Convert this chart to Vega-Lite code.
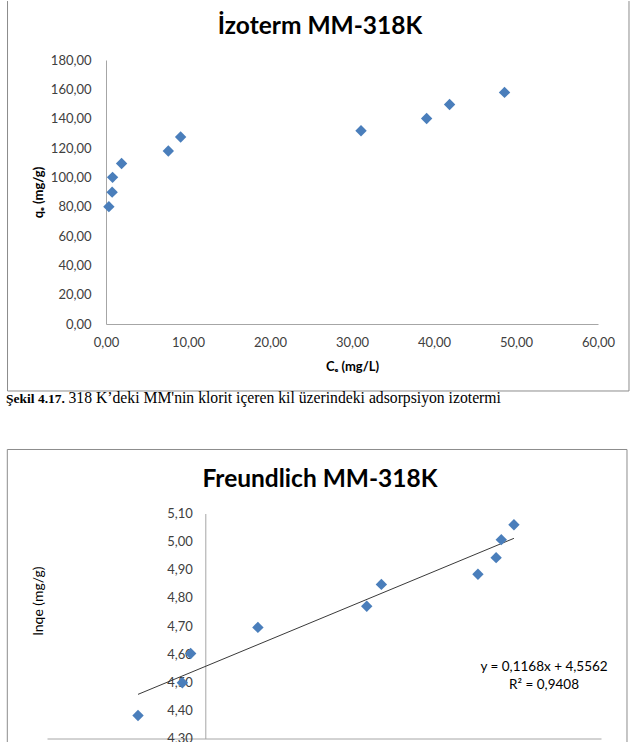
{
  "$schema": "https://vega.github.io/schema/vega-lite/v6.json",
  "background": "white",
  "padding": {"left": 6, "top": 0, "right": 0, "bottom": 0},
  "columns": 1,
  "align": "none",
  "spacing": 42.5,
  "config": {
    "font": "Lato",
    "view": {"stroke": null},
    "axis": {
      "grid": false,
      "ticks": false,
      "labelFlush": false,
      "domainColor": "#a6a6a6",
      "domainWidth": 1,
      "labelFont": "Lato",
      "labelFontSize": 13,
      "labelColor": "#404040",
      "titleFont": "Lato",
      "titleColor": "#000000"
    }
  },
  "datasets": {
    "isoterm": [
      {"Ce": 0.35, "qe": 80.0},
      {"Ce": 0.75, "qe": 89.9},
      {"Ce": 0.80, "qe": 100.0},
      {"Ce": 1.90, "qe": 109.4},
      {"Ce": 7.60, "qe": 118.0},
      {"Ce": 9.10, "qe": 127.5},
      {"Ce": 31.1, "qe": 131.8},
      {"Ce": 39.1, "qe": 140.1},
      {"Ce": 41.9, "qe": 149.7},
      {"Ce": 48.6, "qe": 157.9}
    ],
    "freundlich": [
      {"lnCe": -0.85, "lnqe": 4.382},
      {"lnCe": -0.29, "lnqe": 4.498},
      {"lnCe": -0.185, "lnqe": 4.602},
      {"lnCe": 0.665, "lnqe": 4.695},
      {"lnCe": 2.04, "lnqe": 4.770},
      {"lnCe": 2.225, "lnqe": 4.848},
      {"lnCe": 3.445, "lnqe": 4.884},
      {"lnCe": 3.675, "lnqe": 4.943},
      {"lnCe": 3.74, "lnqe": 5.007},
      {"lnCe": 3.90, "lnqe": 5.060}
    ],
    "trend": [
      {"lnCe": -0.85, "fit": 4.4569},
      {"lnCe": 3.90, "fit": 5.0117}
    ]
  },
  "concat": [
    {
      "width": 492,
      "height": 264,
      "data": {"values": [{}]},
      "resolve": {"axis": {"x": "independent", "y": "independent"}},
      "layer": [
        {
          "mark": {"type": "rule", "color": "#8c8c8c", "strokeWidth": 1},
          "encoding": {
            "x": {"datum": -12.01, "type": "quantitative", "scale": {"domain": [0, 60], "nice": false}, "axis": null},
            "y": {"datum": 220.2, "type": "quantitative", "scale": {"domain": [0, 180], "nice": false}, "axis": null},
            "y2": {"datum": -45.68}
          }
        },
        {
          "mark": {"type": "rule", "color": "#8c8c8c", "strokeWidth": 1},
          "encoding": {
            "x": {"datum": 63.78, "type": "quantitative", "scale": {"domain": [0, 60], "nice": false}, "axis": null},
            "y": {"datum": 220.2, "type": "quantitative", "scale": {"domain": [0, 180], "nice": false}, "axis": null},
            "y2": {"datum": -45.68}
          }
        },
        {
          "mark": {"type": "rule", "color": "#8c8c8c", "strokeWidth": 1},
          "encoding": {
            "x": {"datum": -12.01, "type": "quantitative", "scale": {"domain": [0, 60], "nice": false}, "axis": null},
            "x2": {"datum": 63.78},
            "y": {"datum": -45.68, "type": "quantitative", "scale": {"domain": [0, 180], "nice": false}, "axis": null}
          }
        },
        {
          "mark": {"type": "text", "text": "İzoterm MM-318K", "font": "Lato", "fontSize": 24.5, "fontWeight": "bold", "align": "center", "baseline": "alphabetic", "color": "#000000"},
          "encoding": {
            "x": {"datum": 26.1, "type": "quantitative", "scale": {"domain": [0, 60], "nice": false}, "axis": null},
            "y": {"datum": 197.7, "type": "quantitative", "scale": {"domain": [0, 180], "nice": false}, "axis": null}
          }
        },
        {
          "mark": {"type": "text", "text": "Şekil 4.17.", "font": "Liberation Serif", "fontSize": 13.5, "fontWeight": "bold", "align": "left", "baseline": "alphabetic", "color": "#000000"},
          "encoding": {
            "x": {"datum": -12.195, "type": "quantitative", "scale": {"domain": [0, 60], "nice": false}, "axis": null},
            "y": {"datum": -53.86, "type": "quantitative", "scale": {"domain": [0, 180], "nice": false}, "axis": null}
          }
        },
        {
          "mark": {"type": "text", "text": "318 K’deki MM'nin klorit içeren kil üzerindeki adsorpsiyon izotermi", "font": "Liberation Serif", "fontSize": 15.7, "align": "left", "baseline": "alphabetic", "color": "#000000"},
          "encoding": {
            "x": {"datum": -4.573, "type": "quantitative", "scale": {"domain": [0, 60], "nice": false}, "axis": null},
            "y": {"datum": -53.86, "type": "quantitative", "scale": {"domain": [0, 180], "nice": false}, "axis": null}
          }
        },
        {
          "data": {"name": "isoterm"},
          "mark": {"type": "point", "shape": "diamond", "filled": true, "size": 130, "color": "#4A7EBB", "opacity": 1},
          "encoding": {
            "x": {
              "field": "Ce", "type": "quantitative",
              "scale": {"domain": [0, 60], "nice": false},
              "axis": {
                "orient": "bottom",
                "values": [0, 10, 20, 30, 40, 50, 60],
                "labelExpr": "replace(format(datum.value, '.2f'), '.', ',')",
                "labelPadding": 12,
                "title": "Cₑ (mg/L)",
                "titleFontSize": 13,
                "titleFontWeight": "bold",
                "titleBaseline": "alphabetic",
                "titleY": 46
              }
            },
            "y": {
              "field": "qe", "type": "quantitative",
              "scale": {"domain": [0, 180], "nice": false},
              "axis": {
                "orient": "left",
                "values": [0, 20, 40, 60, 80, 100, 120, 140, 160, 180],
                "labelExpr": "replace(format(datum.value, '.2f'), '.', ',')",
                "labelPadding": 15,
                "title": "qₑ (mg/g)",
                "titleFontSize": 13,
                "titleFontWeight": "bold",
                "titleX": -61
              }
            }
          }
        }
      ]
    },
    {
      "width": 495,
      "height": 225,
      "data": {"values": [{}]},
      "resolve": {"axis": {"x": "independent", "y": "independent"}},
      "layer": [
        {
          "mark": {"type": "rule", "color": "#8c8c8c", "strokeWidth": 1},
          "encoding": {
            "x": {"datum": -2.5016, "type": "quantitative", "scale": {"domain": [-2, 5], "range": [-59, 495], "nice": false}, "axis": null},
            "y": {"datum": 5.3276, "type": "quantitative", "scale": {"domain": [4.3, 5.1], "nice": false, "zero": false}, "axis": null},
            "y2": {"datum": 4.08}
          }
        },
        {
          "mark": {"type": "rule", "color": "#8c8c8c", "strokeWidth": 1},
          "encoding": {
            "x": {"datum": 5.3285, "type": "quantitative", "scale": {"domain": [-2, 5], "range": [-59, 495], "nice": false}, "axis": null},
            "y": {"datum": 5.3276, "type": "quantitative", "scale": {"domain": [4.3, 5.1], "nice": false, "zero": false}, "axis": null},
            "y2": {"datum": 4.08}
          }
        },
        {
          "mark": {"type": "rule", "color": "#8c8c8c", "strokeWidth": 1},
          "encoding": {
            "x": {"datum": -2.5016, "type": "quantitative", "scale": {"domain": [-2, 5], "range": [-59, 495], "nice": false}, "axis": null},
            "x2": {"datum": 5.3285},
            "y": {"datum": 5.3276, "type": "quantitative", "scale": {"domain": [4.3, 5.1], "nice": false, "zero": false}, "axis": null}
          }
        },
        {
          "mark": {"type": "text", "text": "Freundlich MM-318K", "font": "Lato", "fontSize": 24.5, "fontWeight": "bold", "align": "center", "baseline": "alphabetic", "color": "#000000"},
          "encoding": {
            "x": {"datum": 1.4495, "type": "quantitative", "scale": {"domain": [-2, 5], "range": [-59, 495], "nice": false}, "axis": null},
            "y": {"datum": 5.1942, "type": "quantitative", "scale": {"domain": [4.3, 5.1], "nice": false, "zero": false}, "axis": null}
          }
        },
        {
          "data": {"name": "trend"},
          "mark": {"type": "line", "color": "#222222", "strokeWidth": 0.9},
          "encoding": {
            "x": {"field": "lnCe", "type": "quantitative", "scale": {"domain": [-2, 5], "range": [-59, 495], "nice": false}, "axis": null},
            "y": {"field": "fit", "type": "quantitative", "scale": {"domain": [4.3, 5.1], "nice": false, "zero": false}, "axis": null}
          }
        },
        {
          "data": {"name": "freundlich"},
          "mark": {"type": "point", "shape": "diamond", "filled": true, "size": 130, "color": "#4A7EBB", "opacity": 1},
          "encoding": {
            "x": {
              "field": "lnCe", "type": "quantitative",
              "scale": {"domain": [-2, 5], "range": [-59, 495], "nice": false},
              "axis": {
                "orient": "bottom",
                "values": [-2, -1, 0, 1, 2, 3, 4, 5],
                "labelExpr": "replace(format(datum.value, '.2f'), '.', ',')",
                "labelPadding": 12,
                "title": null
              }
            },
            "y": {
              "field": "lnqe", "type": "quantitative",
              "scale": {"domain": [4.3, 5.1], "nice": false, "zero": false},
              "axis": {
                "orient": "left",
                "values": [4.3, 4.4, 4.5, 4.6, 4.7, 4.8, 4.9, 5.0, 5.1],
                "labelExpr": "replace(format(datum.value, '.2f'), '.', ',')",
                "labelPadding": 13,
                "offset": -99.3,
                "title": "lnqe  (mg/g)",
                "titleFontSize": 14,
                "titleFontWeight": "normal",
                "titleX": -160,
                "titleY": 87
              }
            }
          }
        },
        {
          "mark": {"type": "text", "text": "y = 0,1168x + 4,5562", "font": "Lato", "fontSize": 13.5, "align": "center", "baseline": "alphabetic", "color": "#000000"},
          "encoding": {
            "x": {"datum": 4.28, "type": "quantitative", "scale": {"domain": [-2, 5], "range": [-59, 495], "nice": false}, "axis": null},
            "y": {"datum": 4.54, "type": "quantitative", "scale": {"domain": [4.3, 5.1], "nice": false, "zero": false}, "axis": null}
          }
        },
        {
          "mark": {"type": "text", "text": "R² = 0,9408", "font": "Lato", "fontSize": 13.5, "align": "center", "baseline": "alphabetic", "color": "#000000"},
          "encoding": {
            "x": {"datum": 4.28, "type": "quantitative", "scale": {"domain": [-2, 5], "range": [-59, 495], "nice": false}, "axis": null},
            "y": {"datum": 4.476, "type": "quantitative", "scale": {"domain": [4.3, 5.1], "nice": false, "zero": false}, "axis": null}
          }
        }
      ]
    }
  ]
}
